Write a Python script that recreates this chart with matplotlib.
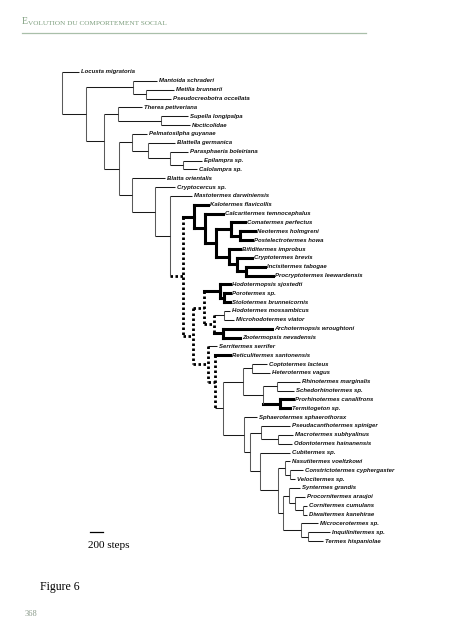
import matplotlib
matplotlib.use("Agg")
import matplotlib.pyplot as plt

# ------------------------------------------------------------
# taxa (top to bottom) and the x where each tip branch ends
# ------------------------------------------------------------
taxa = [
    "Locusta migratoria", "Mantoida schraderi", "Metilia brunnerii",
    "Pseudocreobotra occellata", "Therea petiveriana", "Supella longipalpa",
    "Nocticolidae", "Pelmatosilpha guyanae", "Blattella germanica",
    "Parasphaeria boleiriana", "Epilampra sp.", "Calolampra sp.",
    "Blatta orientalis", "Cryptocercus sp.", "Mastotermes darwiniensis",
    "Kalotermes flavicollis", "Calcaritermes temnocephalus", "Comatermes perfectus",
    "Neotermes holmgreni", "Postelectrotermes howa", "Bifiditermes improbus",
    "Cryptotermes brevis", "Incisitermes tabogae", "Procryptotermes leewardensis",
    "Hodotermopsis sjostedti", "Porotermes sp.", "Stolotermes brunneicornis",
    "Hodotermes mossambicus", "Microhodotermes viator", "Archotermopsis wroughtoni",
    "Zootermopsis nevadensis", "Serritermes serrifer", "Reticulitermes santonensis",
    "Coptotermes lacteus", "Heterotermes vagus", "Rhinotermes marginalis",
    "Schedorhinotermes sp.", "Prorhinotermes canalifrons", "Termitogeton sp.",
    "Sphaerotermes sphaerothorax", "Pseudacanthotermes spiniger", "Macrotermes subhyalinus",
    "Odontotermes hainanensis", "Cubitermes sp.", "Nasutitermes voeltzkowi",
    "Constrictotermes cyphergaster", "Velocitermes sp.", "Syntermes grandis",
    "Procornitermes araujoi", "Cornitermes cumulans", "Diwaitermes kanehirae",
    "Microcerotermes sp.", "Inquilinitermes sp.", "Termes hispaniolae",
]
tip_end = [
    79, 157, 174, 171, 142, 188, 190, 147, 175, 188, 202, 197,
    165, 175, 192, 208, 223, 245, 255, 252, 240, 252, 265, 273,
    230, 230, 230, 230, 234, 272, 240, 217, 230, 267, 270, 300,
    294, 293, 290, 257, 290, 293, 292, 290, 290, 303, 295, 300,
    305, 307, 307, 318, 330, 323,
]

# internal nodes: id, x position, two children (tip index or node id)
node_ids = ["root", "A", "Mant", "Mant2", "B", "C", "C2", "D", "D1", "D2", "D3", "D4",
            "E", "F", "G", "H", "Kal", "Kal2", "Kal3", "Kal4", "Kal5", "Kal6", "Kal7",
            "Kal8", "J", "K", "Hod", "Hod2", "M", "Hm", "Az", "L", "N", "O", "Rh",
            "Rh1", "Rh2", "Rh3", "Rh4", "P", "Q", "Mac", "Mac2", "R", "S", "Nas",
            "Nas2", "T", "Syn", "Syn2", "Syn3", "Mic", "Mic2"]
node_x = [62, 86, 133, 146, 104, 118, 161, 119, 132, 148, 170, 183,
          132, 155, 170, 183, 194, 205, 216, 231, 240, 229, 237,
          246, 193, 204, 220, 224, 214, 224, 223, 208, 215, 223, 243,
          252, 263, 277, 280, 244, 250, 261, 278, 260, 278, 285,
          290, 283, 289, 295, 303, 301, 308]
node_kids = [(0, "A"), ("Mant", "B"), (1, "Mant2"), (2, 3), ("C", "D"), (4, "C2"),
             (5, 6), ("D1", "E"), (7, "D2"), (8, "D3"), (9, "D4"), (10, 11),
             (12, "F"), (13, "G"), (14, "H"), ("Kal", "J"), (15, "Kal2"), (16, "Kal3"),
             ("Kal4", "Kal6"), (17, "Kal5"), (18, 19), (20, "Kal7"), (21, "Kal8"),
             (22, 23), ("K", "L"), ("Hod", "M"), (24, "Hod2"), (25, 26), ("Hm", "Az"),
             (27, 28), (29, 30), (31, "N"), (32, "O"), ("Rh", "P"), ("Rh1", "Rh2"),
             (33, 34), ("Rh3", "Rh4"), (35, 36), (37, 38), (39, "Q"), ("Mac", "R"),
             (40, "Mac2"), (41, 42), (43, "S"), ("Nas", "T"), (44, "Nas2"), (45, 46),
             ("Syn", "Mic"), (47, "Syn2"), (48, "Syn3"), (49, 50), (51, "Mic2"), (52, 53)]

# branches drawn heavy or dotted (keyed by the node / tip they lead to)
thick = {"Kal", "Kal2", "Kal3", "Kal4", "Kal5", "Kal6", "Kal7", "Kal8",
         "Hod", "Hod2", "Az", "Rh4",
         15, 16, 17, 18, 19, 20, 21, 22, 23, 24, 25, 26, 29, 30, 32, 37, 38}
dotted = {"H", "J", "K", "M", "L", "N"}

nodes = {n: (x, k) for n, x, k in zip(node_ids, node_x, node_kids)}

row0, row_h = 72, 8.85

fig = plt.figure(figsize=(4.53, 6.4), dpi=100)
ax = fig.add_axes([0, 0, 1, 1])
ax.set_xlim(0, 453)
ax.set_ylim(640, 0)
ax.axis("off")

thin_kw = dict(color="#1a1a1a", lw=0.75, solid_capstyle="butt")
vert_kw = dict(color="#5a5a5a", lw=0.75, solid_capstyle="butt")
thick_kw = dict(color="black", lw=2.2, solid_capstyle="projecting")
dot_kw = dict(color="black", lw=2.0, linestyle=(0, (0.9, 0.9)), dash_capstyle="butt")


def style(key, vertical=False):
    if key in dotted:
        return dot_kw
    if key in thick:
        return thick_kw
    return vert_kw if vertical else thin_kw


def draw(key, parent_x=None):
    # returns the y of this node / tip after drawing its subtree
    if isinstance(key, int):
        y = row0 + key * row_h
        ax.plot([parent_x, tip_end[key]], [y, y], **style(key))
        ax.text(tip_end[key] + 2, y, taxa[key], fontsize=4.3, family="Liberation Sans",
                weight="bold", style="italic", va="center", ha="left", color="#111111")
        return y
    x, kids = nodes[key]
    ys = [draw(k, x) for k in kids]
    y = (ys[0] + ys[1]) / 2
    ax.plot([x, x], [ys[0], ys[1]], **style(key, vertical=True))
    if parent_x is not None:
        ax.plot([parent_x, x], [y, y], **style(key))
    return y


draw("root")

# scale bar
ax.plot([90, 103], [532, 532], color="black", lw=0.9)
ax.text(88, 545, "200 steps", fontsize=8, family="Liberation Serif", va="center", ha="left")

# page furniture
green = "#7f9f7f"
e = ax.text(22, 24, "E", fontsize=7, family="Liberation Serif", color=green, va="baseline")
ax.annotate("VOLUTION DU COMPORTEMENT SOCIAL", xy=(1, 0), xycoords=e, xytext=(0.3, 0),
            textcoords="offset points", fontsize=5.2, family="Liberation Serif",
            color=green, va="bottom")
ax.plot([22, 366], [33, 33], color="#a9bfa9", lw=0.9)
ax.text(40, 587, "Figure 6", fontsize=8.5, family="Liberation Serif", va="center", ha="left")
ax.text(25, 614, "368", fontsize=6, family="Liberation Serif", color="#8a9a8a",
        va="center", ha="left")

fig.savefig("out.png", dpi=100)
